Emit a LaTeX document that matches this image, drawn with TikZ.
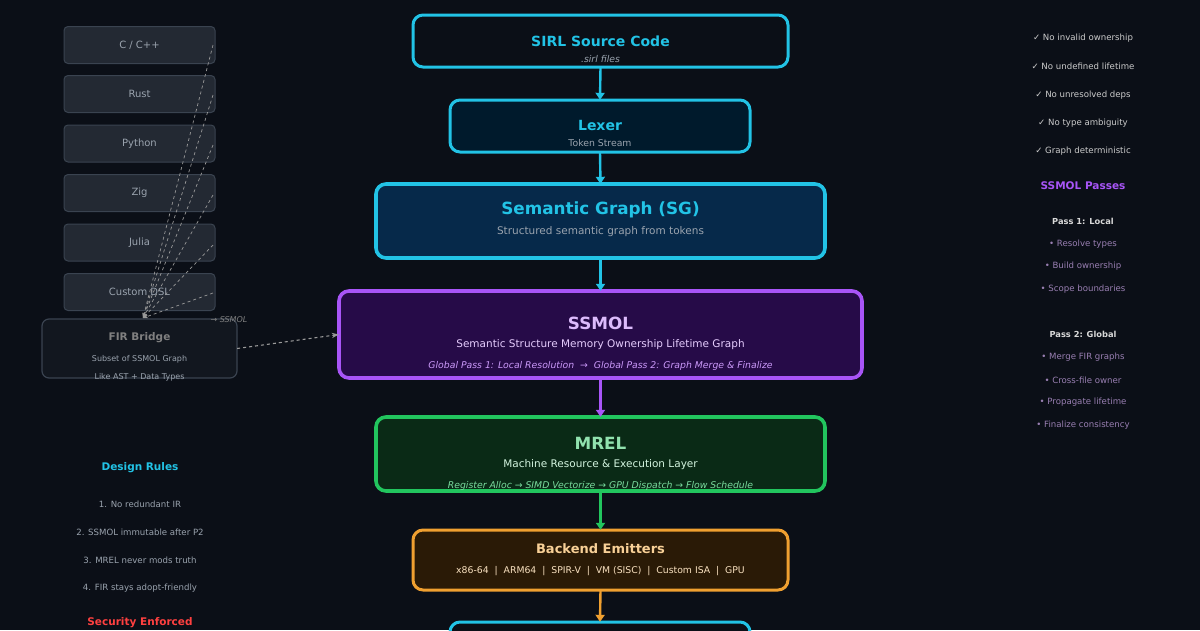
\documentclass[tikz,border=0pt]{standalone}
\usepackage{fontspec}
\setmainfont{DejaVu Sans}
\usetikzlibrary{arrows.meta}
\definecolor{bg}{HTML}{0B0F17}
\definecolor{cyanb}{HTML}{22C3E6}
\definecolor{purb}{HTML}{A855F7}
\definecolor{grnb}{HTML}{22C55E}
\definecolor{orb}{HTML}{F0A030}
\definecolor{langf}{HTML}{232933}
\definecolor{langd}{HTML}{3A4350}
\definecolor{greyt}{HTML}{9AA3AE}
\definecolor{sgf}{HTML}{06294A}
\definecolor{ssf}{HTML}{260B48}
\definecolor{mrf}{HTML}{0A2A16}
\definecolor{bef}{HTML}{2A1A06}
\definecolor{lexf}{HTML}{001A2C}
\newcommand{\fs}[1]{\fontsize{#1}{#1}\selectfont}
\begin{document}
\begin{tikzpicture}[x=1pt,y=-1pt,
  box/.style={rounded corners=10pt,line width=3pt},
  lang/.style={draw=langd,fill=langf,rounded corners=4pt,line width=1pt,minimum width=151pt,minimum height=37pt,text=greyt,font=\fs{10}},
  conn/.style={line width=2.4pt,-{Triangle[length=7pt,width=9pt]}},
  dsh/.style={draw=gray!80,dashed,line width=0.7pt},
  rt/.style={font=\fs{8.6}},
  lt/.style={font=\fs{8.6},text=greyt}]
\fill[bg] (0,0) rectangle (1200,630);
\useasboundingbox (0,0) rectangle (1200,630);
% languages
\node[lang] (l1) at (139.5,45) {C / C++};
\node[lang] (l2) at (139.5,94) {Rust};
\node[lang] (l3) at (139.5,143.5) {Python};
\node[lang] (l4) at (139.5,193) {Zig};
\node[lang] (l5) at (139.5,242.5) {Julia};
\node[lang] (l6) at (139.5,292) {Custom DSL};
% FIR bridge
\draw[draw=langd,fill=bg!70!langf,rounded corners=7pt,line width=1.2pt] (42,319) rectangle (237,378);
\node (fir) at (139.5,348.5) [minimum width=195pt,minimum height=59pt] {};
\node[font=\bfseries\fs{10.5},text=gray] at (139.5,338) {FIR Bridge};
\node[font=\fs{8},text=greyt] at (139.5,359) {Subset of SSMOL Graph};
\node[font=\fs{8},text=greyt] at (139.5,377) {Like AST + Data Types};
\coordinate (firtop) at (143,318);
\foreach \i/\y in {1/45,2/95,3/145,4/195,5/245,6/293}
  \draw[dsh,-{Stealth[length=5pt]}] (213,\y) -- (firtop);
\node[font=\itshape\fs{8},text=gray] at (229,320) {→ SSMOL};
% center boxes
\draw[box,draw=cyanb,fill=bg] (413,15) rectangle (788,67);
\node (sirl) at (600.5,41) [minimum width=375pt,minimum height=52pt] {};
\node[font=\bfseries\fs{14},text=cyanb] at (600.5,41) {SIRL Source Code};
\node[font=\itshape\fs{9.3},text=greyt] at (600.5,59) {.sirl files};
\draw[box,draw=cyanb,fill=lexf] (450,100) rectangle (750,152);
\node (lex) at (600,126) [minimum width=300pt,minimum height=52pt] {};
\node[font=\bfseries\fs{14},text=cyanb] at (600,125) {Lexer};
\node[font=\fs{9.3},text=greyt] at (600,143) {Token Stream};
\draw[box,line width=3.6pt,draw=cyanb,fill=sgf] (376,184) rectangle (825,258);
\node (sg) at (600.5,221) [minimum width=449pt,minimum height=74pt] {};
\node[font=\bfseries\fs{16.8},text=cyanb] at (600.5,210) {Semantic Graph (SG)};
\node[font=\fs{10.5},text=greyt] at (600.5,232) {Structured semantic graph from tokens};
\draw[box,line width=3.6pt,draw=purb,fill=ssf] (339,291) rectangle (862,378);
\node (ssmol) at (600.5,334.5) [minimum width=523pt,minimum height=87pt] {};
\node[font=\bfseries\fs{16.8},text=purb!40!white] at (600.5,323) {SSMOL};
\node[font=\fs{10.5},text=purb!30!white] at (600.5,345) {Semantic Structure Memory Ownership Lifetime Graph};
\node[font=\itshape\fs{9.3},text=purb!60!white] at (600.5,366) {Global Pass 1: Local Resolution \ → \ Global Pass 2: Graph Merge \& Finalize};
\draw[box,line width=3.6pt,draw=grnb,fill=mrf] (376,417) rectangle (825,491);
\node (mrel) at (600.5,454) [minimum width=449pt,minimum height=74pt] {};
\node[font=\bfseries\fs{16.8},text=grnb!50!white] at (600.5,443) {MREL};
\node[font=\fs{10.5},text=grnb!20!white] at (600.5,465) {Machine Resource \& Execution Layer};
\node[font=\itshape\fs{9.3},text=grnb!60!white] at (600.5,486) {Register Alloc → SIMD Vectorize → GPU Dispatch → Flow Schedule};
\draw[box,draw=orb,fill=bef] (413,530) rectangle (788,590);
\node (be) at (600.5,560) [minimum width=375pt,minimum height=60pt] {};
\node[font=\bfseries\fs{13},text=orb!50!white] at (600.5,549) {Backend Emitters};
\node[font=\fs{9.3},text=orb!30!white] at (600.5,571) {x86-64 \ | \ ARM64 \ | \ SPIR-V \ | \ VM (SISC) \ | \ Custom ISA \ | \ GPU};
\draw[box,draw=cyanb,fill=bg] (450,622) rectangle (750,660);
\node (out) at (600,641) [minimum width=300pt,minimum height=38pt] {};
% connectors
\draw[conn,cyanb] (sirl.south) -- (lex.north);
\draw[conn,cyanb] (lex.south) -- (sg.north);
\draw[conn,cyanb] (sg.south) -- (ssmol.north);
\draw[conn,purb] (ssmol.south) -- (mrel.north);
\draw[conn,grnb] (mrel.south) -- (be.north);
\draw[conn,orb] (be.south) -- (out.north);
\draw[dsh,line width=1.1pt,-{Stealth[length=7pt]}] (fir.east) -- (ssmol.west);
% left notes
\node[font=\bfseries\fs{10.5},text=cyanb] at (140,468) {Design Rules};
\node[lt] at (140,504) {1. No redundant IR};
\node[lt] at (140,532) {2. SSMOL immutable after P2};
\node[lt] at (140,560) {3. MREL never mods truth};
\node[lt] at (140,588) {4. FIR stays adopt-friendly};
\node[font=\bfseries\fs{10.5},text=red!75!white] at (140,623) {Security Enforced};
% right notes
\foreach \y/\t in {38/No invalid ownership,66/No undefined lifetime,95/No unresolved deps,123/No type ambiguity,151/Graph deterministic}
  \node[rt,text=gray!40!white] at (1083,\y) {✓ \t};
\node[font=\bfseries\fs{10.5},text=purb] at (1083,186) {SSMOL Passes};
\node[font=\bfseries\fs{8.3},text=gray!30!white] at (1083,221) {Pass 1: Local};
\node[font=\bfseries\fs{8.3},text=gray!30!white] at (1083,334) {Pass 2: Global};
\foreach \y/\t in {244/Resolve types,266/Build ownership,289/Scope boundaries,357/Merge FIR graphs,380/Cross-file owner,402/Propagate lifetime,425/Finalize consistency}
  \node[rt,text=purb!35!gray!90!white] at (1083,\y) {• \t};
\end{tikzpicture}
\end{document}
